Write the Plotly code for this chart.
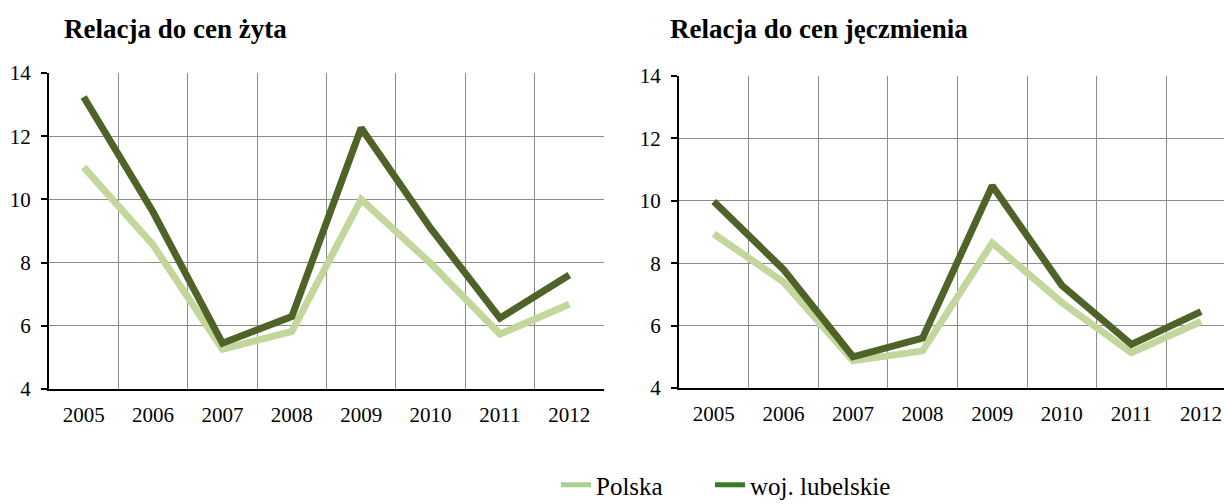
import plotly.graph_objects as go

# Lata i wartości relacji cen
years = ["2005", "2006", "2007", "2008", "2009", "2010", "2011", "2012"]

# Relacja do cen żyta
zyto_polska = [11.02, 8.56, 5.26, 5.82, 10.0, 7.98, 5.74, 6.68]
zyto_lubelskie = [13.24, 9.6, 5.45, 6.29, 12.26, 9.09, 6.24, 7.61]

# Relacja do cen jęczmienia
jeczmien_polska = [8.94, 7.4, 4.87, 5.19, 8.65, 6.74, 5.13, 6.13]
jeczmien_lubelskie = [9.98, 7.8, 5.0, 5.6, 10.48, 7.29, 5.4, 6.45]

titles = ["Relacja do cen żyta", "Relacja do cen jęczmienia"]
series_names = ["Polska", "woj. lubelskie"]
y_ticks = [4, 6, 8, 10, 12, 14]

LIGHT = "#C3D69B"
DARK = "#4F6228"
LEGEND_LIGHT = "#A9D08E"
LEGEND_DARK = "#3A7A22"
FONT = "Liberation Serif"

W, H = 1224, 504


def px_x(v):
    return v / W


def px_y(v):
    return 1 - v / H


fig = go.Figure()

panels = [
    ("x", "y", zyto_polska, zyto_lubelskie),
    ("x2", "y2", jeczmien_polska, jeczmien_lubelskie),
]
for xa, ya, pl, lub in panels:
    fig.add_trace(go.Scatter(x=years, y=pl, mode="lines", xaxis=xa, yaxis=ya,
                             line=dict(color=LIGHT, width=7), showlegend=False,
                             name=series_names[0]))
    fig.add_trace(go.Scatter(x=years, y=lub, mode="lines", xaxis=xa, yaxis=ya,
                             line=dict(color=DARK, width=7), showlegend=False,
                             name=series_names[1]))

# Legend entries, one legend box per series
for name, col, lg in zip(series_names, [LEGEND_LIGHT, LEGEND_DARK], ["legend", "legend2"]):
    fig.add_trace(go.Scatter(x=[None], y=[None], mode="lines", xaxis="x", yaxis="y",
                             line=dict(color=col, width=5), name=name, legend=lg))

common_x = dict(
    type="category", tickson="boundaries", showgrid=True, gridcolor="#8C8C8C",
    gridwidth=1, showline=True, linecolor="black", linewidth=2, ticks="",
    tickfont=dict(family=FONT, size=21, color="black"), ticklabelstandoff=6,
    zeroline=False, fixedrange=True,
)
common_y = dict(
    range=[4, 14], tickvals=y_ticks, showgrid=True, gridcolor="#8C8C8C",
    gridwidth=1, showline=True, linecolor="black", linewidth=2, ticks="outside",
    ticklen=6, tickcolor="black", tickwidth=1.5,
    tickfont=dict(family=FONT, size=21, color="black"), ticklabelstandoff=6,
    zeroline=False, fixedrange=True,
)

legend_common = dict(orientation="h", xanchor="left", y=-0.008, yanchor="bottom",
                     font=dict(family=FONT, size=25, color="black"),
                     bgcolor="rgba(0,0,0,0)", borderwidth=0)

fig.update_layout(
    width=W, height=H,
    margin=dict(l=0, r=0, t=0, b=0, autoexpand=False),
    paper_bgcolor="white", plot_bgcolor="white",
    font=dict(family=FONT, color="black"),
    xaxis=dict(common_x, domain=[px_x(49), px_x(604)], range=[-0.5, 7.5], anchor="y"),
    yaxis=dict(common_y, domain=[px_y(389), px_y(73)], anchor="x"),
    xaxis2=dict(common_x, domain=[px_x(679), 1.0], range=[-0.5, 7.33], anchor="y2"),
    yaxis2=dict(common_y, domain=[px_y(388), px_y(76)], anchor="x2"),
    legend=dict(legend_common, x=px_x(556)),
    legend2=dict(legend_common, x=px_x(710)),
    annotations=[
        dict(text="<b>%s</b>" % titles[0], x=px_x(62), y=px_y(29), xref="paper",
             yref="paper", xanchor="left", yanchor="middle", showarrow=False,
             font=dict(family=FONT, size=27, color="black")),
        dict(text="<b>%s</b>" % titles[1], x=px_x(668), y=px_y(29), xref="paper",
             yref="paper", xanchor="left", yanchor="middle", showarrow=False,
             font=dict(family=FONT, size=27, color="black")),
    ],
)

fig.write_html("out.html")
